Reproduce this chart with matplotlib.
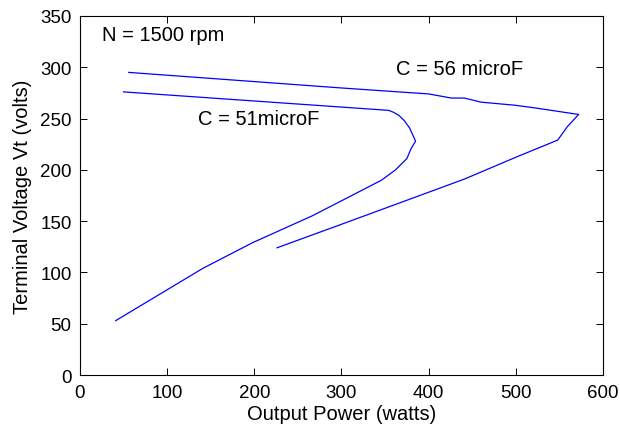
import matplotlib
matplotlib.use("Agg")
import matplotlib.pyplot as plt

plt.rcParams['font.family'] = ['Liberation Sans', 'DejaVu Sans']

# C = 51 microF curve
p51 = [50, 354, 360, 366, 372, 378, 385, 380, 375, 362, 346, 305, 266, 198, 141, 41]
v51 = [276, 258, 256, 253, 248, 241, 228, 221, 211, 200, 190, 172, 155, 129, 104, 53]

# C = 56 microF curve
p56 = [56, 297, 400, 426, 441, 460, 499, 525, 572, 559, 548, 502, 441, 297, 226]
v56 = [295, 280, 274, 270, 270, 266, 263, 260, 254, 242, 229, 213, 191, 146, 124]

xticks = [0, 100, 200, 300, 400, 500, 600]
yticks = [0, 50, 100, 150, 200, 250, 300, 350]

fig = plt.figure(figsize=(6.2, 4.31), dpi=100)
ax = fig.add_axes([0.129, 0.1276, 0.9726 - 0.129, 0.9606 - 0.1276])

ax.plot(p51, v51, color='#0000ff', lw=0.9)
ax.plot(p56, v56, color='#0000ff', lw=0.9)

ax.set_xlim(0, 600)
ax.set_ylim(0, 350)
ax.set_xticks(xticks)
ax.set_yticks(yticks)
ax.tick_params(direction='in', top=True, right=True, labelsize=13.5, length=5, width=0.7)
ax.tick_params(axis='x', pad=6.5)
ax.tick_params(axis='y', pad=6)
for s in ax.spines.values():
    s.set_linewidth(0.8)

ax.set_xlabel('Output Power (watts)', fontsize=14.5, labelpad=2)
ax.set_ylabel('Terminal Voltage Vt (volts)', fontsize=14.5, labelpad=6)

ax.text(25, 332, 'N = 1500 rpm', fontsize=14.5, va='center')
ax.text(436, 299, 'C = 56 microF', fontsize=14.5, ha='center', va='center')
ax.text(205, 250, 'C = 51microF', fontsize=14.5, ha='center', va='center')

fig.savefig('out.png', dpi=100)
